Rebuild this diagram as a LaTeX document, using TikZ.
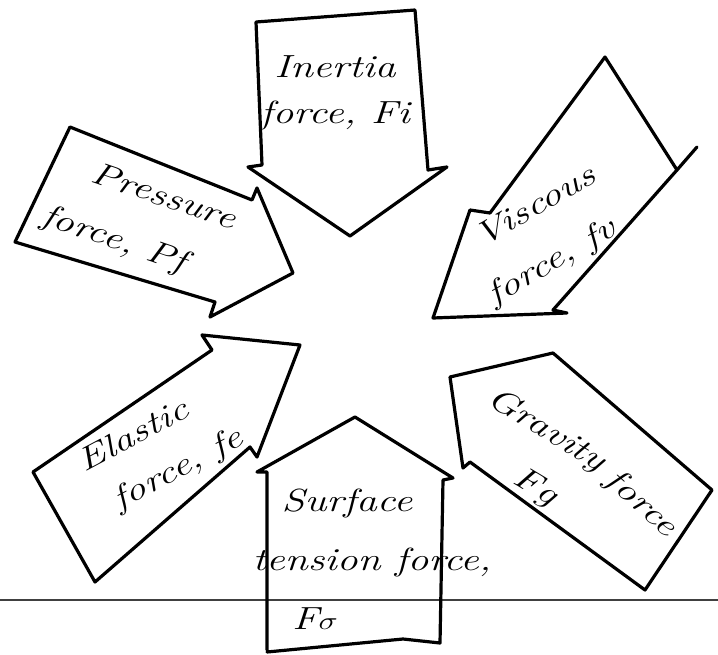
\documentclass[tikz,border=0pt]{standalone}
\usepackage{graphicx}
\newcommand\hw[1]{\scalebox{1.3}[1]{#1}}
\begin{document}
\begin{tikzpicture}[x=1pt,y=-1pt,
  blockarrow/.style={draw=black, line width=3.2pt, line join=round, line cap=round},
  groundline/.style={draw=black!75, line width=1.4pt},
  hand/.style={font=\fontsize{32}{#1}\selectfont\itshape, align=center, inner sep=0pt},
  hand/.default=40]
\useasboundingbox (0,0) rectangle (718,655);
\fill[white] (0,0) rectangle (718,655);

% ground line across the page
\draw[groundline] (0,600) -- (718,600);

% inertia force: pointing down
\draw[blockarrow] (256,22) -- (415,10) -- (428,170) -- (447,167) -- (350,236)
  -- (248,167) -- (262,165) -- cycle;
\node[hand=46] (inertia) at (335,93) {\hw{Inertia}\\\hw{force, Fi}};

% pressure force: pointing down-right
\draw[blockarrow] (70,127) -- (252,200) -- (257,188) -- (293,273) -- (210,317)
  -- (215,302) -- (15,242) -- cycle;
\node[hand=56, rotate=-19] (pressure) at (123,214)
  {\hspace*{66pt}\hw{Pressure}\\\hw{force, Pf}};

% viscous force: pointing down-left
\draw[blockarrow] (605,57) -- (677,170) -- (553,310) -- (567,313) -- (433,318)
  -- (470,210) -- (490,213) -- cycle;
\draw[blockarrow] (677,170) -- (697,147);
\node[hand=56, rotate=30] (viscous) at (538,239)
  {\hspace*{28pt}\hw{Viscous}\\\hw{force, fv}};

% elastic force: pointing up-right
\draw[blockarrow] (212,350) -- (202,335) -- (300,345) -- (257,457) -- (250,447)
  -- (95,582) -- (33,472) -- cycle;
\node[hand=50, rotate=28] (elastic) at (146,459)
  {\hw{Elastic}\\\hspace*{48pt}\hw{force, fe}};

% gravity force: pointing up-left
\draw[blockarrow] (553,353) -- (450,377) -- (463,468) -- (470,462) -- (645,590)
  -- (712,490) -- cycle;
\node[hand=54, rotate=-31] (gravity) at (532,454)
  {\hw{Gravity}\\\hspace*{40pt}\hw{Fg}};
\node[hand, rotate=-42] (gravityforce) at (641,504) {\hw{force}};

% surface tension force: pointing up
\draw[blockarrow] (267,650) -- (267,472) -- (257,472) -- (355,417) -- (453,478)
  -- (443,480) -- (440,643) -- (403,639) -- (267,652);
\node[hand=59] (surface) at (372,559)
  {\hw{Surface}\hspace*{50pt}\\\hw{tension force,}\\\hw{F$\sigma$}\hspace*{114pt}};
\end{tikzpicture}
\end{document}
